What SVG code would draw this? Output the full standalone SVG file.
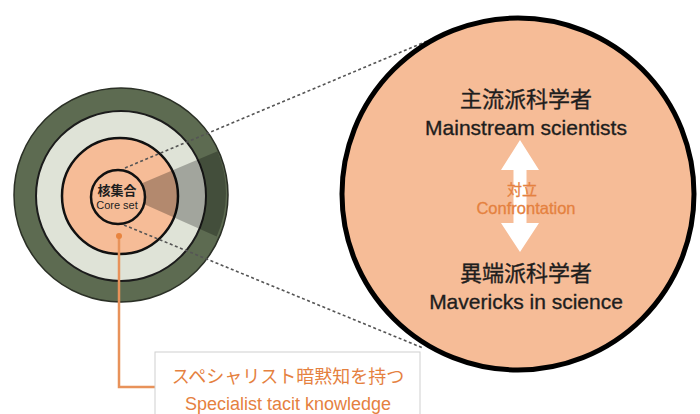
<svg xmlns="http://www.w3.org/2000/svg" width="700" height="414" viewBox="0 0 700 414">
  <style>
    .ja { font-family: "Noto Sans CJK JP", "Noto Sans CJK SC", sans-serif; }
    .en { font-family: "Liberation Sans", Arial, sans-serif; }
    .dark { fill: #1e1e1e; }
    .heavy { stroke: #1e1e1e; stroke-width: 0.35; }
    .orange { fill: #e5813f; }
    .oheavy { stroke: #e5813f; stroke-width: 0.3; }
    .dash { fill: none; stroke: #555; stroke-width: 1.6; stroke-dasharray: 3 2.5; }
  </style>
  <defs>
    <clipPath id="outerClip"><circle cx="121" cy="195" r="107"/></clipPath>
  </defs>
  <rect width="700" height="414" fill="#ffffff"/>

  <g id="rings">
    <circle cx="121" cy="195" r="107" fill="#5d6b51" stroke="#2b3026" stroke-width="1.5"/>
    <circle cx="121" cy="196" r="85" fill="#dfe3d7" stroke="#1c1c1c" stroke-width="2"/>
    <circle cx="120" cy="196" r="58" fill="#f6bc97" stroke="#111" stroke-width="2.5"/>
    <path d="M119,193 L217.5,151.2 A107,107 0 0 1 216.7,236.5 Z" fill="#000" fill-opacity="0.27" clip-path="url(#outerClip)"/>
  </g>

  <g id="core-set">
    <circle cx="118" cy="197" r="27" fill="#f6bc97" stroke="#111" stroke-width="2.5"/>
    <text x="117" y="194.5" text-anchor="middle" class="ja dark" font-size="13" font-weight="bold">核集合</text>
    <text x="117" y="209" text-anchor="middle" class="en dark" font-size="11">Core set</text>
  </g>

  <g id="connectors">
    <line class="dash" x1="125" y1="168" x2="432" y2="39"/>
    <line class="dash" x1="124" y1="225" x2="423" y2="348"/>
    <polyline points="119,236 119,387 155,387" fill="none" stroke="#e8925a" stroke-width="2.5"/>
    <circle cx="119" cy="236" r="3" fill="#e8843f"/>
  </g>

  <g id="zoom-circle">
    <circle cx="518" cy="194" r="176" fill="#f6bc97" stroke="#000" stroke-width="5"/>
    <text x="526" y="107" text-anchor="middle" class="ja dark heavy" font-size="22">主流派科学者</text>
    <text x="526" y="135" text-anchor="middle" class="en dark heavy" font-size="21">Mainstream scientists</text>
    <text x="526" y="281" text-anchor="middle" class="ja dark heavy" font-size="22">異端派科学者</text>
    <text x="526" y="309" text-anchor="middle" class="en dark heavy" font-size="21">Mavericks in science</text>
  </g>

  <g id="confrontation">
    <path d="M520,140 L539,170 L526.5,170 L526.5,223 L539,223 L520,252 L501,223 L513.5,223 L513.5,170 L501,170 Z" fill="#ffffff"/>
    <text x="522" y="195" text-anchor="middle" class="ja orange oheavy" font-size="15">対立</text>
    <text x="526" y="214" text-anchor="middle" class="en orange oheavy" font-size="16.5">Confrontation</text>
  </g>

  <g id="label-box">
    <rect x="155" y="352" width="265" height="66" fill="#ffffff" stroke="#cfcfcf" stroke-width="1"/>
    <text x="288" y="383" text-anchor="middle" class="ja orange" font-size="18">スペシャリスト暗黙知を持つ</text>
    <text x="288" y="410" text-anchor="middle" class="en orange" font-size="18">Specialist tacit knowledge</text>
  </g>
</svg>
